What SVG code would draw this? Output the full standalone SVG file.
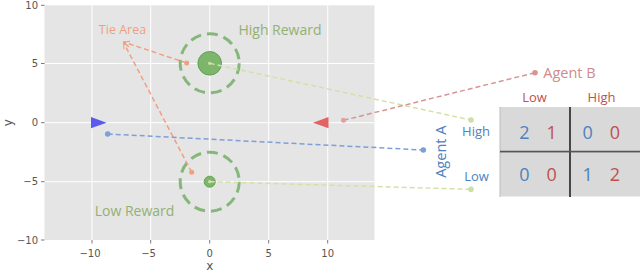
<svg xmlns="http://www.w3.org/2000/svg" width="640" height="273" viewBox="0 0 640 273">
<style>
.tick{font-family:"DejaVu Sans",sans-serif;font-size:10px;fill:#555}
.lab{font-family:"Open Sans","Liberation Sans",sans-serif}
.grid{stroke:#fff;stroke-width:1}
.tm{stroke:#555;stroke-width:0.8}
.dl{fill:none;stroke-width:1.5;stroke-dasharray:5,3}
.num{font-family:"Open Sans","Liberation Sans",sans-serif;font-size:18px;text-anchor:middle}
</style>
<defs>
<marker id="ah" viewBox="0 0 10 10" refX="9" refY="5" markerWidth="7" markerHeight="7" orient="auto-start-reverse" markerUnits="userSpaceOnUse">
<path d="M0,1 L9,5 L0,9" fill="none" stroke="#f0a080" stroke-width="1.5"/>
</marker>
</defs>
<rect width="640" height="273" fill="#fff"/>
<g id="plot">
<rect x="44.5" y="5.3" width="330" height="234.7" fill="#e5e5e5"/>
<g class="grid">
<line x1="92" y1="5.3" x2="92" y2="240"/>
<line x1="150.7" y1="5.3" x2="150.7" y2="240"/>
<line x1="209.7" y1="5.3" x2="209.7" y2="240"/>
<line x1="268.7" y1="5.3" x2="268.7" y2="240"/>
<line x1="327.7" y1="5.3" x2="327.7" y2="240"/>
<line x1="44.5" y1="63.5" x2="374.5" y2="63.5"/>
<line x1="44.5" y1="122.7" x2="374.5" y2="122.7"/>
<line x1="44.5" y1="181.7" x2="374.5" y2="181.7"/>
</g>
<g class="tm">
<line x1="41" y1="5.3" x2="44.5" y2="5.3"/>
<line x1="41" y1="63.5" x2="44.5" y2="63.5"/>
<line x1="41" y1="122.7" x2="44.5" y2="122.7"/>
<line x1="41" y1="181.7" x2="44.5" y2="181.7"/>
<line x1="41" y1="240" x2="44.5" y2="240"/>
<line x1="92" y1="240" x2="92" y2="243.5"/>
<line x1="150.7" y1="240" x2="150.7" y2="243.5"/>
<line x1="209.7" y1="240" x2="209.7" y2="243.5"/>
<line x1="268.7" y1="240" x2="268.7" y2="243.5"/>
<line x1="327.7" y1="240" x2="327.7" y2="243.5"/>
</g>
<g class="tick" text-anchor="end">
<text x="38" y="9">10</text>
<text x="38" y="67">5</text>
<text x="38" y="126.4">0</text>
<text x="38" y="185.4">−5</text>
<text x="38" y="243.7">−10</text>
</g>
<g class="tick" text-anchor="middle">
<text x="90" y="256.5">−10</text>
<text x="148.5" y="256.5">−5</text>
<text x="209.7" y="256.5">0</text>
<text x="268.7" y="256.5">5</text>
<text x="327.7" y="256.5">10</text>
</g>
<text class="tick" x="209.7" y="270" text-anchor="middle" style="font-size:12px">x</text>
<text class="tick" transform="translate(12,122.7) rotate(-90)" text-anchor="middle" style="font-size:12px">y</text>
</g>
<g id="high-reward">
<circle cx="209.7" cy="63.3" r="29.5" fill="none" stroke="#86b77a" stroke-width="3" stroke-dasharray="11,6"/>
<circle cx="209.7" cy="63.3" r="11.8" fill="#7db56d" stroke="#63a053" stroke-width="1"/>
<text class="lab" x="280" y="35" font-size="14" fill="#93b173" text-anchor="middle">High Reward</text>
</g>
<g id="low-reward">
<circle cx="209.7" cy="181.7" r="29.5" fill="none" stroke="#86b77a" stroke-width="3" stroke-dasharray="11,6"/>
<circle cx="209.7" cy="181.7" r="5.5" fill="#7db56d" stroke="#63a053" stroke-width="1"/>
<text class="lab" x="134.5" y="216" font-size="14" fill="#93b173" text-anchor="middle">Low Reward</text>
</g>
<g id="tie-area">
<text class="lab" x="122.5" y="33.5" font-size="12.5" fill="#f0a080" text-anchor="middle">Tie Area</text>
</g>
<g id="agent-a-marker">
<path d="M91,117 L106.5,122.7 L91,128.3 Z" fill="#5a5aee"/>
</g>
<g id="agent-b-marker">
<path d="M328.5,117 L313,122.7 L328.5,128.3 Z" fill="#e46262"/>
</g>
<g id="connectors">
<path class="dl" d="M186.7,63 L123.5,42" stroke="#f0a080" marker-end="url(#ah)"/>
<path class="dl" d="M191.7,172.3 L123.5,42.5" stroke="#f0a080" marker-end="url(#ah)"/>
<circle cx="186.7" cy="63" r="2.5" fill="#f0a080"/>
<circle cx="191.7" cy="172.3" r="2.5" fill="#f0a080"/>
<path class="dl" d="M209.7,63.3 L471,120" stroke="#d5e0a8"/>
<circle cx="209.7" cy="63.3" r="1.6" fill="#d5e0a8"/>
<circle cx="471" cy="120" r="2.8" fill="#cddea6"/>
<path class="dl" d="M209.7,181.7 L471,189.3" stroke="#d5e0a8"/>
<circle cx="209.7" cy="181.7" r="1.6" fill="#d5e0a8"/>
<circle cx="471" cy="189.3" r="2.8" fill="#cddea6"/>
<path class="dl" d="M343.5,120.3 L535,72.7" stroke="#d89494"/>
<circle cx="343.5" cy="120.3" r="2.5" fill="#e0a0a0"/>
<circle cx="535" cy="72.7" r="2.8" fill="#d89494"/>
<path class="dl" d="M107.7,134 L423.3,150" stroke="#809ed8"/>
<circle cx="107.7" cy="134" r="2.8" fill="#809ed8"/>
<circle cx="423.3" cy="150" r="2.8" fill="#809ed8"/>
</g>
<g id="agent-b-label">
<text class="lab" x="569.5" y="77.5" font-size="14.5" fill="#d08a8a" text-anchor="middle">Agent B</text>
</g>
<g id="payoff-table">
<rect x="500" y="107" width="69" height="44" fill="#d9d9d9"/>
<rect x="571" y="107" width="69" height="44" fill="#d9d9d9"/>
<rect x="500" y="152.5" width="69" height="44" fill="#d9d9d9"/>
<rect x="571" y="152.5" width="69" height="44" fill="#d9d9d9"/>
<line x1="500" y1="107" x2="500" y2="197" stroke="#bbb" stroke-width="1"/>
<line x1="570" y1="107" x2="570" y2="197" stroke="#333" stroke-width="1.8"/>
<line x1="500" y1="151.7" x2="640" y2="151.7" stroke="#555" stroke-width="1.8"/>
<text class="lab" x="534.5" y="101.5" font-size="13" fill="#c0504d" text-anchor="middle">Low</text>
<text class="lab" x="601.5" y="101.5" font-size="13" fill="#c0504d" text-anchor="middle">High</text>
<text class="lab" x="476" y="136" font-size="13" fill="#4f81bd" text-anchor="middle">High</text>
<text class="lab" x="476.5" y="180.5" font-size="13" fill="#4f81bd" text-anchor="middle">Low</text>
<text class="lab" transform="translate(446,151.7) rotate(-90)" font-size="14.5" fill="#4f81bd" text-anchor="middle">Agent A</text>
<text class="num" x="524.3" y="138.5" fill="#4f81bd">2</text>
<text class="num" x="551.7" y="138.5" fill="#c0504d">1</text>
<text class="num" x="587.7" y="138.5" fill="#4f81bd">0</text>
<text class="num" x="615" y="138.5" fill="#c0504d">0</text>
<text class="num" x="524.3" y="180.5" fill="#4f81bd">0</text>
<text class="num" x="551.7" y="180.5" fill="#c0504d">0</text>
<text class="num" x="587.7" y="180.5" fill="#4f81bd">1</text>
<text class="num" x="615" y="180.5" fill="#c0504d">2</text>
</g>
</svg>
